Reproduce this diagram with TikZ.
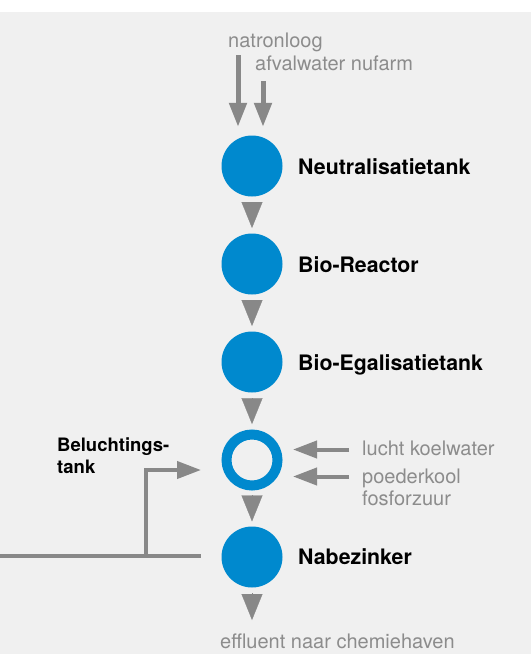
\documentclass[tikz,border=0pt]{standalone}
\usepackage{fontspec}
\setmainfont{TeX Gyre Heros}
\usetikzlibrary{arrows.meta,calc}
\definecolor{bggrey}{RGB}{240,240,240}
\definecolor{tankblue}{RGB}{0,137,206}
\definecolor{flowgrey}{RGB}{136,136,136}
\definecolor{txtgrey}{RGB}{140,140,140}
\begin{document}
\begin{tikzpicture}[x=1pt,y=-1pt,
  tank/.style={circle,fill=tankblue,minimum size=61pt,inner sep=0pt},
  ringtank/.style={circle,draw=tankblue,line width=10pt,minimum size=51pt,inner sep=0pt},
  tanklabel/.style={font=\bfseries\fontsize{21.3}{24}\selectfont,anchor=base west,inner sep=0pt,text=black},
  sidelabel/.style={font=\bfseries\fontsize{18.5}{21.5}\selectfont,anchor=base west,inner sep=0pt,text=black},
  greylabel/.style={font=\fontsize{20}{22}\selectfont,anchor=base west,inner sep=0pt,text=txtgrey},
  feedin/.style={draw=flowgrey,line width=5pt,-{Triangle[length=24pt,width=17pt]}},
  sidein/.style={draw=flowgrey,line width=4pt,-{Triangle[length=24pt,width=17pt]}},
  stepflow/.style={draw=flowgrey,fill=flowgrey,line width=0.3pt,-{Triangle[length=26pt,width=21pt]}},
  returnline/.style={draw=flowgrey,line width=4pt}
]
\useasboundingbox (0,0) rectangle (531,654);
\fill[white] (0,0) rectangle (531,654);
\fill[bggrey] (0,12) rectangle (531,654);

% tanks
\node[tank] (n1) at (252,166) {};
\node[tank] (n2) at (252,264) {};
\node[tank] (n3) at (252,362) {};
\node[ringtank] (n4) at (252,460) {};
\node[tank] (n5) at (252,557) {};

% tank labels
\node[tanklabel] (l1) at (298,174) {Neutralisatietank};
\node[tanklabel] (l2) at (298,272) {Bio-Reactor};
\node[tanklabel] (l3) at (298,370) {Bio-Egalisatietank};
\node[tanklabel] (l5) at (298,564) {Nabezinker};
\node[sidelabel] (l4a) at (57,451.5) {Beluchtings-};
\node[sidelabel] (l4b) at (57,473) {tank};

% grey input labels
\node[greylabel] (t1) at (228,47) {natronloog};
\node[greylabel] (t2) at (255,70) {afvalwater nufarm};
\node[greylabel] (t3) at (362,455) {lucht koelwater};
\node[greylabel] (t4) at (362,483) {poederkool};
\node[greylabel] (t5) at (362,505) {fosforzuur};
\node[greylabel] (t6) at (220,648) {effluent naar chemiehaven};

% top inputs
\coordinate (in1) at (238,55);
\coordinate (in2) at (263,81);
\draw[feedin] (in1) -- ($(n1.north)+(-14,-8.5)$);
\draw[feedin] (in2) -- ($(n1.north)+(11,-8.5)$);

% steps between tanks
\foreach \a/\b in {n1/n2,n2/n3,n3/n4,n4/n5}{
  \draw[stepflow] ($($(\a.south)!0.5!(\b.north)$)+(0,-13)$) -- ($($(\a.south)!0.5!(\b.north)$)+(0,13)$);
}
\coordinate (out) at (252,620);
\draw[stepflow] ($(n5.south)+(0,5.5)$) -- (out);

% side inputs to aeration tank
\coordinate (s1) at (349,449.5);
\coordinate (s2) at (349,476.5);
\draw[sidein] (s1) -- ($(n4.east)+(10.5,-10.5)$);
\draw[sidein] (s2) -- ($(n4.east)+(10.5,16.5)$);

% return line
\coordinate (fbl) at (0,556);
\coordinate (fbr) at (201,556);
\coordinate (fbk) at (146,556);
\draw[returnline] (fbl) -- (fbr);
\draw[sidein] (fbk) |- ($(n4.west)+(-20.5,10)$);
\end{tikzpicture}
\end{document}
